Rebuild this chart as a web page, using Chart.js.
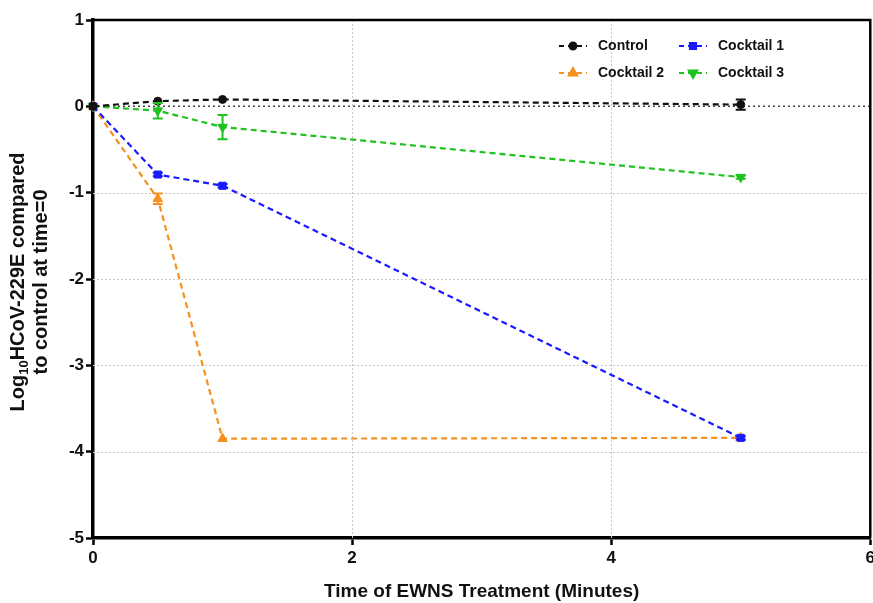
<!DOCTYPE html>
<html>
<head>
<meta charset="utf-8">
<script src="https://cdn.jsdelivr.net/npm/chart.js@4/dist/chart.umd.min.js"></script>
<style>
html,body{margin:0;padding:0;background:#fff;overflow:hidden;}
#wrap{width:873px;height:603px;position:relative;overflow:hidden;}
</style>
</head>
<body>
<div id="wrap"><canvas id="c" width="878" height="603"></canvas></div>
<script>
// ---- data ----
const times = [0, 0.5, 1, 5];
const seriesNames = ['Control', 'Cocktail 1', 'Cocktail 2', 'Cocktail 3'];
const controlVals = [0, 0.06, 0.08, 0.02];
const controlErr = [0, 0, 0, 0.06];
const cocktail1Vals = [0, -0.79, -0.92, -3.84];
const cocktail1Err = [0, 0.02, 0.02, 0.02];
const cocktail2Vals = [0, -1.07, -3.85, -3.84];
const cocktail2Err = [0, 0.06, 0, 0];
const cocktail3Vals = [0, -0.05, -0.24, -0.82];
const cocktail3Err = [0, 0.09, 0.14, 0.02];
const xTickValues = [0, 2, 4, 6];
const yTickValues = [-5, -4, -3, -2, -1, 0, 1];
const xTitle = 'Time of EWNS Treatment (Minutes)';
const yTitleLine1 = ['Log', '10', 'HCoV-229E compared'];
const yTitleLine2 = 'to control at time=0';

const colors = ['#111111', '#1a1aff', '#f7901e', '#1fc21f'];
const markers = ['circle', 'rect', 'triangle', 'triangle'];
const rotations = [0, 0, 0, 180];
const radii = [4, 5, 5.5, 5.5];
const valsList = [controlVals, cocktail1Vals, cocktail2Vals, cocktail3Vals];
const errList = [controlErr, cocktail1Err, cocktail2Err, cocktail3Err];

const FONT = '"Liberation Sans", Arial, Helvetica, sans-serif';

const datasets = seriesNames.map((name, i) => ({
  label: name,
  data: times.map((t, k) => ({x: t, y: valsList[i][k]})),
  errors: errList[i],
  borderColor: colors[i],
  backgroundColor: colors[i],
  borderWidth: 2.2,
  borderDash: [6, 4],
  pointStyle: markers[i],
  rotation: rotations[i],
  pointRadius: radii[i],
  pointBorderWidth: 1,
  tension: 0,
  fill: false,
  clip: false
}));

const gridPlugin = {
  id: 'gridPlugin',
  beforeDatasetsDraw(chart) {
    const ctx = chart.ctx, xs = chart.scales.x, ys = chart.scales.y, a = chart.chartArea;
    ctx.save();
    ctx.lineWidth = 1;
    ctx.strokeStyle = '#c8c8c8';
    ctx.setLineDash([2, 2]);
    yTickValues.forEach(v => {
      if (v === 0 || v === 1 || v === -5) return;
      const y = Math.round(ys.getPixelForValue(v)) + 0.5;
      ctx.beginPath(); ctx.moveTo(a.left, y); ctx.lineTo(a.right, y); ctx.stroke();
    });
    xTickValues.forEach(v => {
      if (v === 0 || v === 6) return;
      const x = Math.round(xs.getPixelForValue(v)) + 0.5;
      ctx.beginPath(); ctx.moveTo(x, a.top); ctx.lineTo(x, a.bottom); ctx.stroke();
    });
    // zero reference line
    ctx.strokeStyle = '#444';
    ctx.lineWidth = 1.5;
    ctx.setLineDash([2, 3]);
    const y0 = ys.getPixelForValue(0);
    ctx.beginPath(); ctx.moveTo(a.left, y0); ctx.lineTo(a.right, y0); ctx.stroke();
    ctx.restore();
  },
  afterDatasetsDraw(chart) {
    const ctx = chart.ctx, xs = chart.scales.x, ys = chart.scales.y, a = chart.chartArea;
    ctx.save();
    // error bars
    chart.data.datasets.forEach((ds) => {
      ctx.strokeStyle = ds.borderColor;
      ctx.lineWidth = 2;
      ctx.setLineDash([]);
      ds.data.forEach((p, k) => {
        const e = ds.errors[k];
        if (!e) return;
        const x = xs.getPixelForValue(p.x);
        const yt = ys.getPixelForValue(p.y + e);
        const yb = ys.getPixelForValue(p.y - e);
        ctx.beginPath();
        ctx.moveTo(x, yt); ctx.lineTo(x, yb);
        ctx.moveTo(x - 5, yt); ctx.lineTo(x + 5, yt);
        ctx.moveTo(x - 5, yb); ctx.lineTo(x + 5, yb);
        ctx.stroke();
      });
    });
    // frame top and right
    ctx.strokeStyle = '#000';
    ctx.lineWidth = 2.5;
    ctx.beginPath();
    ctx.moveTo(a.left, a.top); ctx.lineTo(a.right, a.top); ctx.lineTo(a.right, a.bottom);
    ctx.stroke();

    // legend
    const entries = [
      {i: 0, x: 559, y: 46}, {i: 1, x: 679, y: 46},
      {i: 2, x: 559, y: 73}, {i: 3, x: 679, y: 73}
    ];
    entries.forEach(en => {
      const ds = chart.data.datasets[en.i];
      ctx.strokeStyle = ds.borderColor;
      ctx.lineWidth = 2.2;
      ctx.setLineDash([5, 4]);
      ctx.beginPath(); ctx.moveTo(en.x, en.y); ctx.lineTo(en.x + 28, en.y); ctx.stroke();
      ctx.setLineDash([]);
      ctx.fillStyle = ds.borderColor;
      Chart.helpers.drawPoint(ctx, {
        pointStyle: ds.pointStyle, rotation: ds.rotation, radius: ds.pointRadius * 0.85, borderWidth: 1
      }, en.x + 14, en.y);
      ctx.fillStyle = '#111';
      ctx.font = 'bold 14px ' + FONT;
      ctx.textBaseline = 'middle';
      ctx.textAlign = 'left';
      ctx.fillText(ds.label, en.x + 39, en.y);
    });

    // y title with subscript
    ctx.fillStyle = '#111';
    ctx.save();
    ctx.rotate(-Math.PI / 2);
    const big = 'bold 20px ' + FONT, small = 'bold 13px ' + FONT;
    ctx.font = big;
    const w1 = ctx.measureText(yTitleLine1[0]).width;
    const w3 = ctx.measureText(yTitleLine1[2]).width;
    ctx.font = small;
    const w2 = ctx.measureText(yTitleLine1[1]).width;
    const total = w1 + w2 + w3;
    const cy = 282;
    let sx = -cy - total / 2;
    ctx.textBaseline = 'alphabetic';
    ctx.textAlign = 'left';
    const lineX1 = 24;
    ctx.font = big; ctx.fillText(yTitleLine1[0], sx, lineX1); sx += w1;
    ctx.font = small; ctx.fillText(yTitleLine1[1], sx, lineX1 + 4); sx += w2;
    ctx.font = big; ctx.fillText(yTitleLine1[2], sx, lineX1);
    ctx.textAlign = 'center';
    ctx.fillText(yTitleLine2, -cy, lineX1 + 23);
    ctx.restore();

    // x title
    ctx.font = 'bold 19px ' + FONT;
    ctx.textAlign = 'center';
    ctx.textBaseline = 'middle';
    ctx.fillText(xTitle, (a.left + a.right) / 2, 592);
    ctx.restore();
  }
};

new Chart(document.getElementById('c'), {
  type: 'line',
  data: { datasets },
  options: {
    responsive: false,
    animation: false,
    devicePixelRatio: 1,
    layout: { padding: { top: 20, right: 0, left: 0, bottom: 0 } },
    plugins: { legend: { display: false }, tooltip: { enabled: false } },
    scales: {
      x: {
        type: 'linear', min: 0, max: 6,
        afterBuildTicks: s => { s.ticks = xTickValues.map(v => ({value: v})); },
        afterFit: s => { s.height = 65; },
        ticks: { color: '#111', font: { family: FONT, size: 17, weight: 'bold' }, padding: 3, maxRotation: 0, autoSkip: false },
        grid: { drawOnChartArea: false, drawTicks: true, tickLength: 7, tickColor: '#000', tickWidth: 2.5 },
        border: { display: true, color: '#000', width: 3.5 }
      },
      y: {
        type: 'linear', min: -5, max: 1,
        afterBuildTicks: s => { s.ticks = yTickValues.map(v => ({value: v})); },
        afterFit: s => { s.width = 93; },
        ticks: { color: '#111', font: { family: FONT, size: 17, weight: 'bold' }, padding: 2, autoSkip: false },
        grid: { drawOnChartArea: false, drawTicks: true, tickLength: 7, tickColor: '#000', tickWidth: 2.5 },
        border: { display: true, color: '#000', width: 3.5 }
      }
    }
  },
  plugins: [gridPlugin]
});
</script>
</body>
</html>
